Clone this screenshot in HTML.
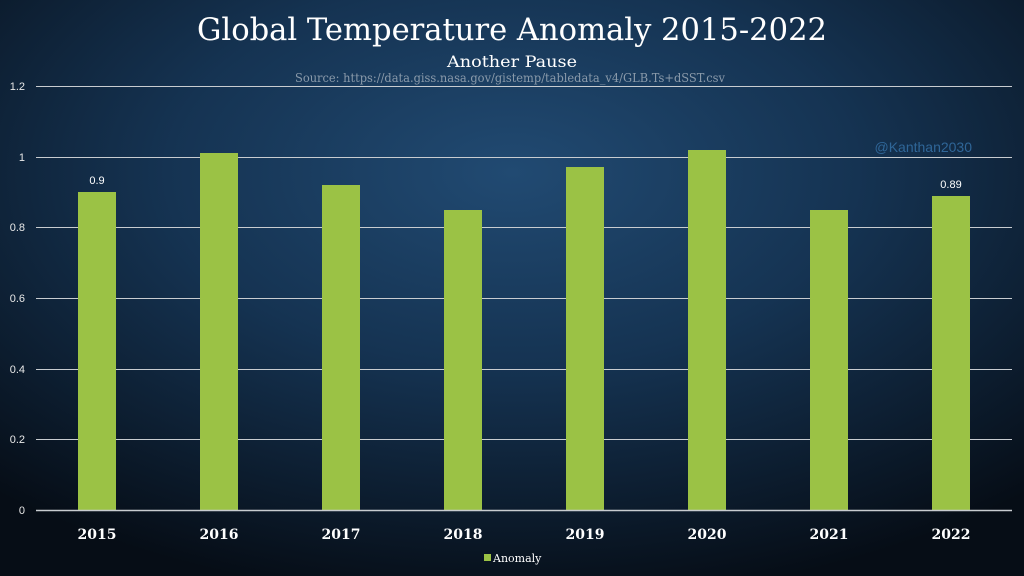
<!DOCTYPE html>
<html><head><meta charset="utf-8"><style>
html,body{margin:0;padding:0;width:1024px;height:576px;overflow:hidden;background:#0b1828}
</style></head><body>
<svg width="1024" height="576" xmlns="http://www.w3.org/2000/svg" font-family="'DejaVu Serif','Liberation Serif',serif">
<defs>
<radialGradient id="bg" cx="50%" cy="30%" r="75%">
<stop offset="0" stop-color="#214a72"/>
<stop offset="0.45" stop-color="#153352"/>
<stop offset="1" stop-color="#060d16"/>
</radialGradient>
</defs>
<rect width="1024" height="576" fill="url(#bg)"/>
<text x="512" y="40" text-anchor="middle" fill="#fff" font-size="31" textLength="630" lengthAdjust="spacingAndGlyphs">Global Temperature Anomaly 2015-2022</text>
<text x="512" y="67" text-anchor="middle" fill="#fff" font-size="16" textLength="130" lengthAdjust="spacingAndGlyphs">Another Pause</text>
<text x="510" y="82" text-anchor="middle" fill="#8a9aaa" font-size="12" textLength="430" lengthAdjust="spacingAndGlyphs">Source: https://data.giss.nasa.gov/gistemp/tabledata_v4/GLB.Ts+dSST.csv</text>
<g stroke="#c8ccd0" stroke-width="1">
<line x1="36" y1="86.5" x2="1012" y2="86.5"/>
<line x1="36" y1="157.5" x2="1012" y2="157.5"/>
<line x1="36" y1="227.5" x2="1012" y2="227.5"/>
<line x1="36" y1="298.5" x2="1012" y2="298.5"/>
<line x1="36" y1="369.5" x2="1012" y2="369.5"/>
<line x1="36" y1="439.5" x2="1012" y2="439.5"/>
</g>
<text x="972" y="152" text-anchor="end" fill="#2f6698" font-family="'Liberation Sans',sans-serif" font-size="14">@Kanthan2030</text>
<g fill="#9bc245">
<rect x="78" y="192" width="38" height="318"/>
<rect x="200" y="153" width="38" height="357"/>
<rect x="322" y="185" width="38" height="325"/>
<rect x="444" y="210" width="38" height="300"/>
<rect x="566" y="167" width="38" height="343"/>
<rect x="688" y="150" width="38" height="360"/>
<rect x="810" y="210" width="38" height="300"/>
<rect x="932" y="196" width="38" height="314"/>
</g>
<line x1="36" y1="510.5" x2="1012" y2="510.5" stroke="#c8ccd0" stroke-width="1.5"/>
<g fill="#fff" font-family="'Liberation Sans',sans-serif" font-size="11" text-anchor="middle">
<text x="97" y="184">0.9</text>
<text x="951" y="188">0.89</text>
</g>
<g fill="#e8e8e8" font-family="'Liberation Sans',sans-serif" font-size="11" text-anchor="end">
<text x="25" y="90">1.2</text>
<text x="25" y="161">1</text>
<text x="25" y="231">0.8</text>
<text x="25" y="302">0.6</text>
<text x="25" y="373">0.4</text>
<text x="25" y="443">0.2</text>
<text x="25" y="514">0</text>
</g>
<g fill="#fff" font-size="14" font-weight="bold" text-anchor="middle">
<text x="97" y="539">2015</text>
<text x="219" y="539">2016</text>
<text x="341" y="539">2017</text>
<text x="463" y="539">2018</text>
<text x="585" y="539">2019</text>
<text x="707" y="539">2020</text>
<text x="829" y="539">2021</text>
<text x="951" y="539">2022</text>
</g>
<rect x="484" y="554" width="7" height="7" fill="#9bc245"/>
<text x="493" y="562" fill="#fff" font-size="11">Anomaly</text>
</svg>
</body></html>
